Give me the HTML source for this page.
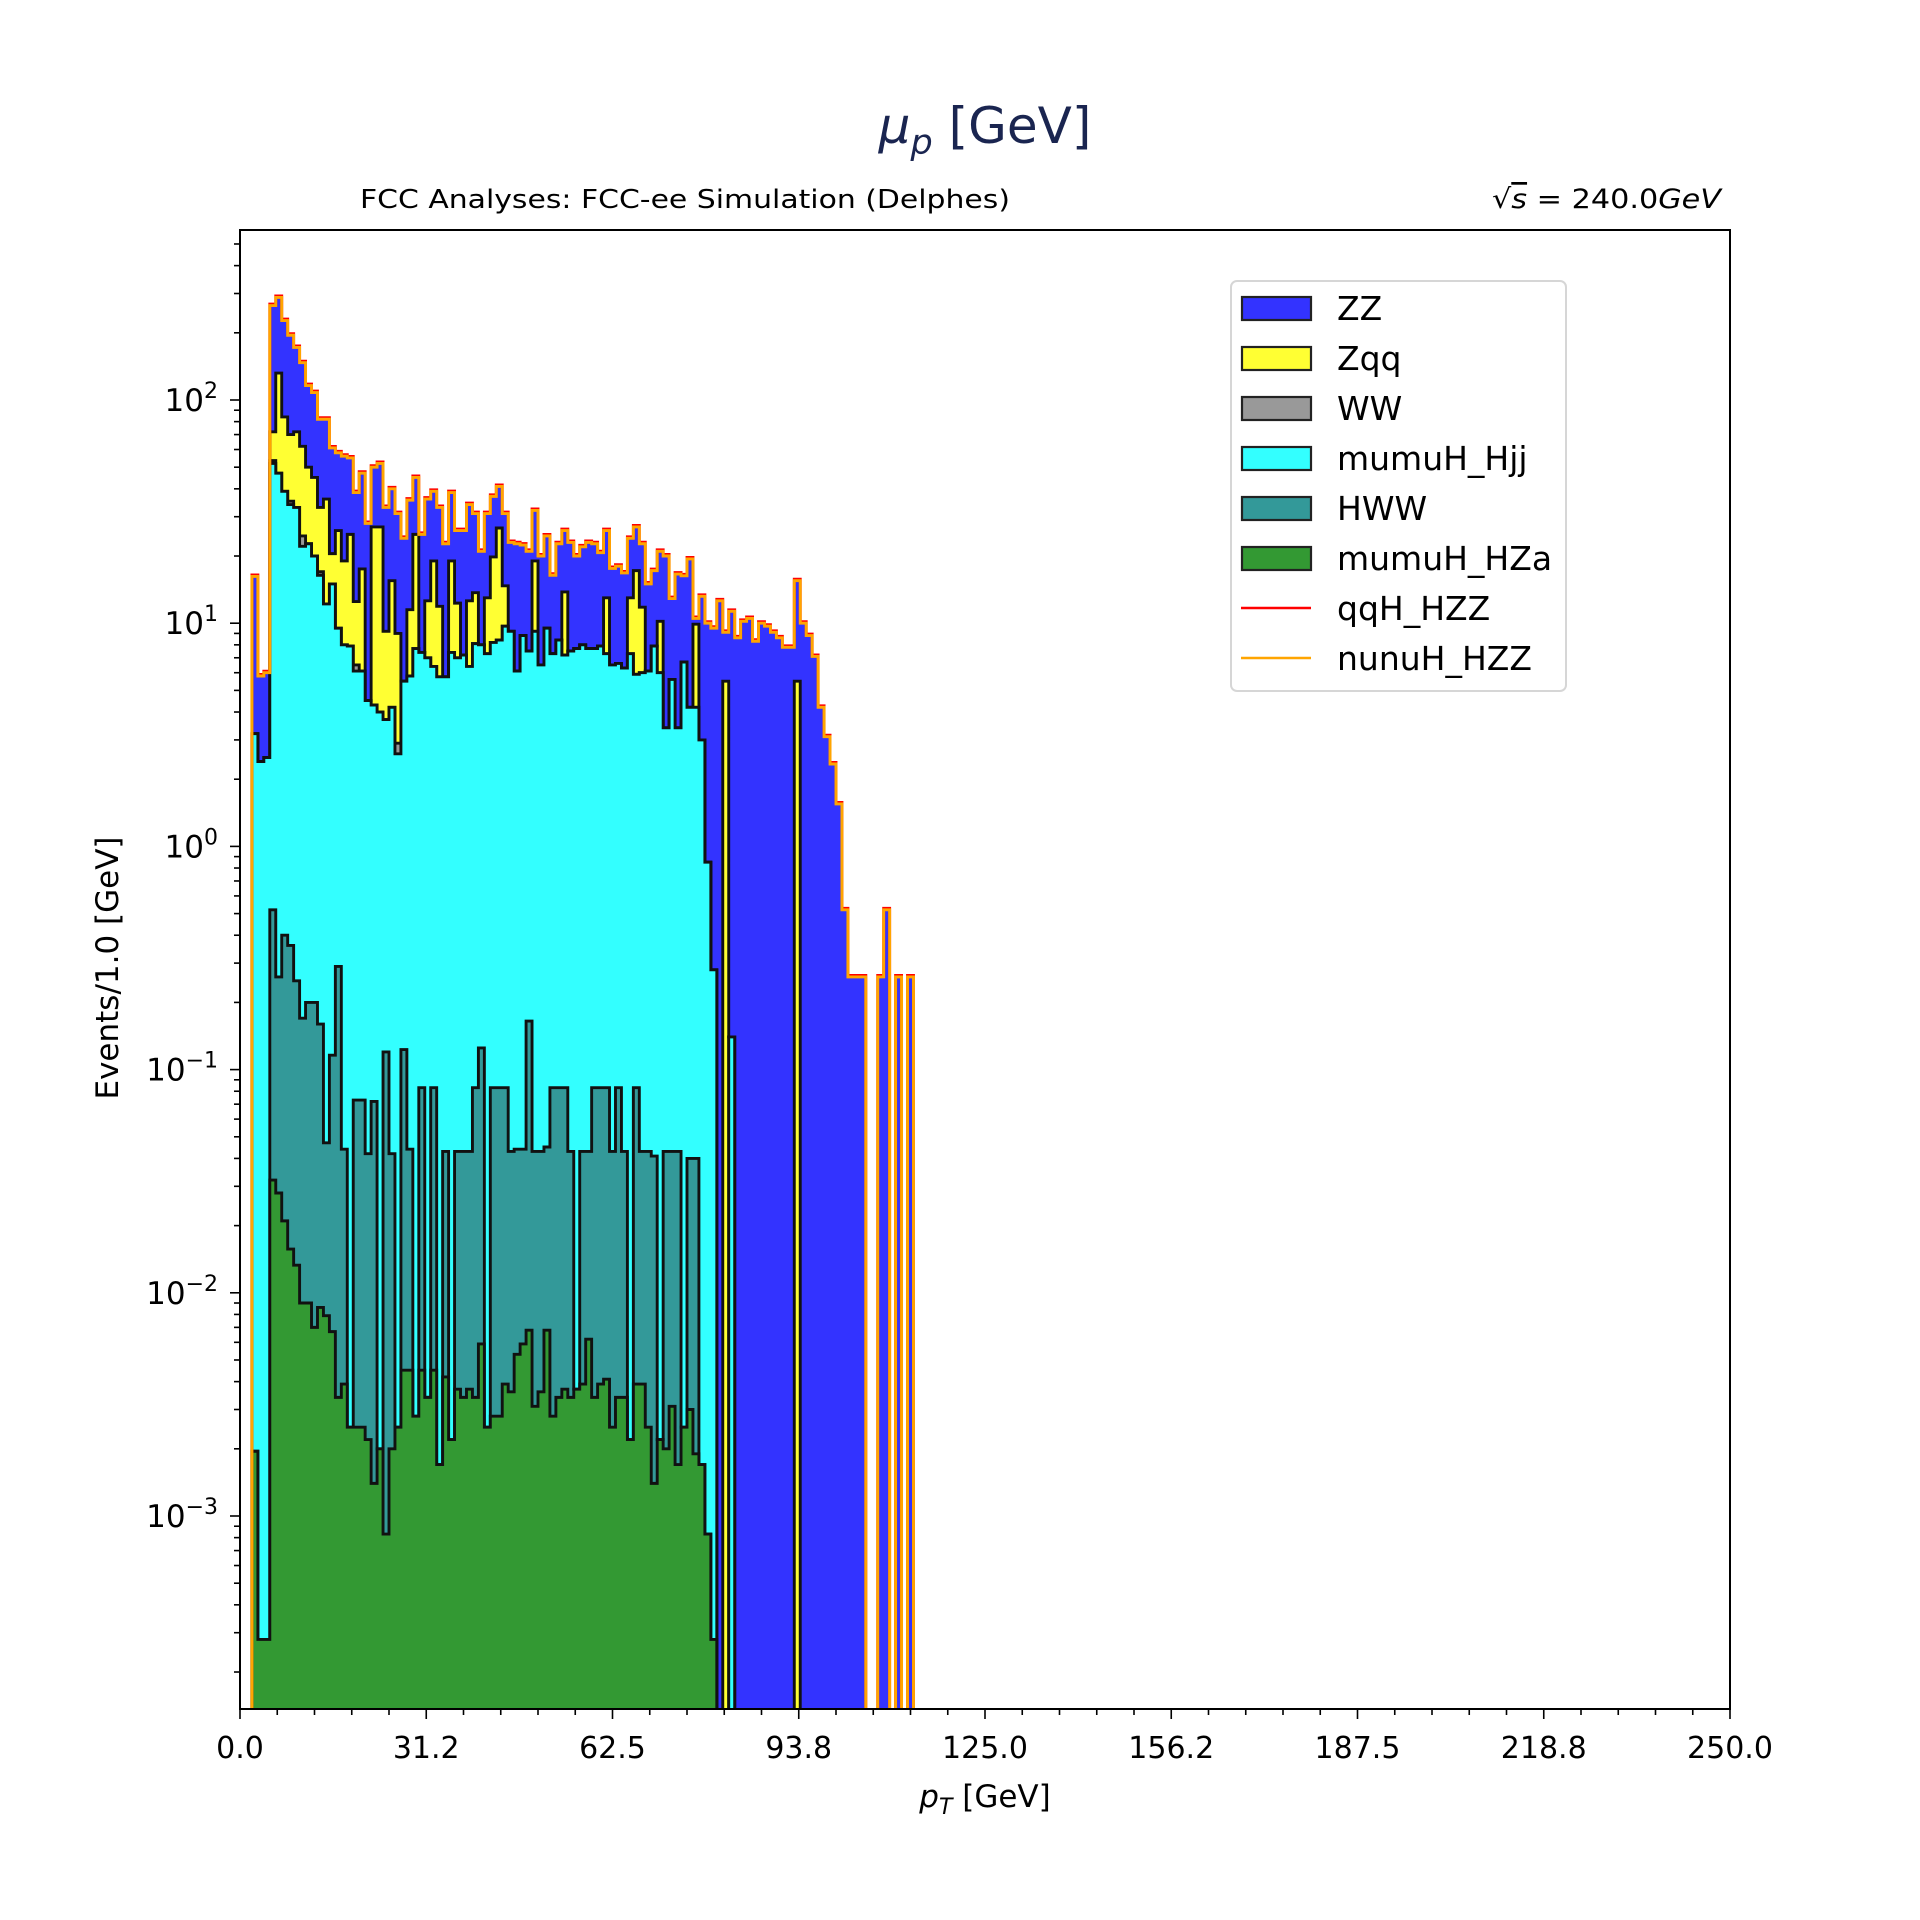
<!DOCTYPE html>
<html><head><meta charset="utf-8"><style>
html,body{margin:0;padding:0;background:#fff;}
svg{display:block;font-family:"DejaVu Sans","Liberation Sans",sans-serif;}
</style></head><body>
<svg id="chart" xmlns="http://www.w3.org/2000/svg" width="1920" height="1920" viewBox="0 0 1920 1920">
<rect width="1920" height="1920" fill="#fff"/>
<text x="985" y="143" text-anchor="middle" font-size="50" fill="#1a2550"><tspan font-style="italic">μ</tspan><tspan font-style="italic" font-size="35" dy="11">p</tspan><tspan dy="-11"> [GeV]</tspan></text>
<text x="360" y="208" font-size="26" textLength="650" lengthAdjust="spacingAndGlyphs">FCC Analyses: FCC-ee Simulation (Delphes)</text>
<text x="1492" y="208" font-size="27" textLength="229" lengthAdjust="spacingAndGlyphs">√<tspan font-style="italic" text-decoration="overline">s</tspan> = 240.0<tspan font-style="italic">GeV</tspan></text>
<defs><clipPath id="plotclip"><rect x="240" y="230" width="1490" height="1479"/></clipPath></defs>
<g id="bars" clip-path="url(#plotclip)"></g>
<g id="axes"></g>
<text x="985" y="1807" font-size="31" text-anchor="middle"><tspan font-style="italic">p</tspan><tspan font-style="italic" font-size="22" dy="7">T</tspan><tspan dy="-7"> [GeV]</tspan></text>
<text transform="translate(118,968) rotate(-90)" font-size="31" text-anchor="middle">Events/1.0 [GeV]</text>
<g id="legend">
<rect x="1231" y="281" width="335" height="410" rx="6" fill="#fff" fill-opacity="0.8" stroke="#d6d6d6" stroke-width="2"/>
</g>
</svg>
<script>
const binWidth = 1.0;
const stackTotal = [0,0,16.2,5.8,6.0,265,288,227,195,172,
147,116,108,82,82,61,58,56,55,38.5,
47,28,50,52,33,40,31,24,35.6,45,
25,36,39,33,22.7,38.5,26,26,34,31,
21,31,37,41,31,23,22.7,22.4,21,32,
20,24.6,16.4,22.7,26,23,20,22,23,22.7,
20.7,26,17.6,18,16.8,24,27,22.7,15,17.2,
21,20,12.9,16.6,16.3,19.4,10.5,13.2,10,9.5,
12.6,9.1,11.3,8.6,10.2,10.5,8.3,10,9.7,9.1,
8.6,7.8,7.8,15.5,10,8.8,7.1,4.2,3.1,2.34,
1.55,0.52,0.26,0.26,0.26,0,0,0.26,0.52,0,
0.26,0,0.26];
const stackZqq = [0,0,3.2,2.4,2.5,72,132,84,70,72,
62,50,45,33,36,20.5,26,19,25,12.5,
17.5,4.5,27,27,9.2,15.5,9.0,5.5,11.5,25,
7.4,12.6,19,11.9,5.75,19,12.3,7.2,12.6,13.7,
8,13,19.8,26.7,14.7,9.2,6.1,8.8,7.5,19,
6.5,9.5,7.3,8.4,13.8,7.5,7.7,8,7.7,7.7,
7.9,13,6.5,6.6,6.3,13,17.2,11.8,6.1,7.9,
10.2,3.4,5.6,3.4,6.7,4.2,9.9,3.0,0.85,0.28,
0,5.5,0.14,0,0,0,0,0,0,0,
0,0,0,5.5,0,0,0,0,0,0];
const wwExtra = [0,0,0,0,0,1.5,0,0,1.2,0,
2.5,0,0,0.6,0,0,0,0,0,0.4,
0,0,0,0,0,0,0.3,0,0,0];
const stackHjj = [0,0,3.2,2.4,2.5,52,47,39,34,33,
22.1,22.7,20,16.4,12.2,15,9.5,8,7.9,6.1,
6.1,4.5,4.3,4.0,3.7,4.2,2.6,5.5,5.8,7.7,
7.4,7.0,6.4,5.75,5.75,7.4,7.0,7.2,6.4,8.1,
8.0,7.3,8.2,8.4,9.7,9.2,6.1,8.8,7.5,9.2,
6.5,9.5,7.3,8.4,7.2,7.5,7.7,8.0,7.7,7.7,
7.9,7.3,6.5,6.6,6.3,7.3,5.9,6.0,6.1,7.9,
6.0,3.4,5.6,3.4,6.7,4.2,4.2,3.0,0.85,0.28,
0,0,0.14];
const stackHWW = [0,0,0.00195,0.00028,0.00028,0.52,0.26,0.40,0.36,0.25,
0.17,0.2,0.2,0.16,0.047,0.116,0.29,0.044,0.0025,0.073,
0.073,0.042,0.072,0.002,0.12,0.042,0.0025,0.123,0.044,0.0028,
0.083,0.0034,0.083,0.0017,0.043,0.0022,0.043,0.043,0.043,0.083,
0.125,0.0025,0.083,0.083,0.083,0.043,0.044,0.044,0.165,0.043,
0.043,0.045,0.083,0.083,0.083,0.043,0.0037,0.043,0.043,0.083,
0.083,0.083,0.043,0.083,0.043,0.0022,0.083,0.043,0.043,0.041,
0.0022,0.043,0.043,0.043,0.0025,0.04,0.04,0.0017,0.00083,0.00028];
const stackHZa = [0,0,0.00195,0.00028,0.00028,0.032,0.028,0.021,0.0157,0.0133,
0.009,0.009,0.007,0.0086,0.0079,0.0067,0.0034,0.0039,0.0025,0.0025,
0.0025,0.0022,0.0014,0.002,0.00083,0.002,0.0025,0.0045,0.0045,0.0028,
0.0045,0.0034,0.0045,0.0017,0.0042,0.0022,0.0037,0.0034,0.0037,0.0034,
0.0059,0.0025,0.0028,0.0028,0.0039,0.0036,0.0053,0.0059,0.0068,0.0031,
0.0036,0.0068,0.0028,0.0034,0.0037,0.0034,0.0037,0.0039,0.0062,0.0034,
0.0039,0.0041,0.0025,0.0034,0.0034,0.0022,0.0039,0.0039,0.0025,0.0014,
0.0022,0.002,0.0031,0.0017,0.0025,0.003,0.0019,0.0017,0.00083,0.00028];
const xTickLabels = ["0.0","31.2","62.5","93.8","125.0","156.2","187.5","218.8","250.0"];
const yTickExps = [-3,-2,-1,0,1,2];
const legendNames = ["ZZ","Zqq","WW","mumuH_Hjj","HWW","mumuH_HZa","qqH_HZZ","nunuH_HZZ"];

const NS = "http://www.w3.org/2000/svg";
const L = 240, R = 1730, T = 230, B = 1709;
const xMin = 0, xMax = 250;
const logMax = 2 + (400 - T) / 223.2;
const logMin = logMax - (B - T) / 223.2;
function xOf(v){ return L + (v - xMin) / (xMax - xMin) * (R - L); }
function yOf(v){ if (!(v > 0)) return B + 20; return T + (logMax - Math.log10(v)) / (logMax - logMin) * (B - T); }
function mk(tag, attrs, parent){ const e = document.createElementNS(NS, tag); for (const k in attrs) e.setAttribute(k, attrs[k]); parent.appendChild(e); return e; }

const nBins = stackTotal.length;
function val(arr, i){ return (i < arr.length && arr[i] > 0) ? arr[i] : 0; }
const stackWW = [];
for (let i = 0; i < nBins; i++) stackWW.push(val(stackHjj, i) + val(wwExtra, i));

function stepD(arr, close){
  let d = "M" + xOf(0) + "," + (B + 20);
  for (let i = 0; i < nBins; i++) {
    const y = yOf(val(arr, i));
    d += " L" + xOf(i * binWidth).toFixed(2) + "," + y.toFixed(2) + " L" + xOf((i + 1) * binWidth).toFixed(2) + "," + y.toFixed(2);
  }
  d += " L" + xOf(nBins * binWidth) + "," + (B + 20);
  if (close) d += " Z";
  return d;
}

const bars = document.getElementById("bars");
const layers = [
  {arr: stackTotal, fill: "#3333ff", stroke: "none", name: "zz-fill"},
  {arr: stackZqq, fill: "#ffff33", stroke: "#111", name: "zqq-fill"},
  {arr: stackWW, fill: "#999999", stroke: "#111", name: "ww-fill"},
  {arr: stackHjj, fill: "#33ffff", stroke: "#111", name: "mumuh-hjj-fill"},
  {arr: stackHWW, fill: "#339999", stroke: "#111", name: "hww-fill"},
  {arr: stackHZa, fill: "#339933", stroke: "#111", name: "mumuh-hza-fill"}
];
layers.forEach(ly => {
  const p = mk("path", {d: stepD(ly.arr, true), fill: ly.fill, stroke: ly.stroke, "stroke-width": 2.9, "stroke-linejoin": "miter"}, bars);
  
  
});
const red = mk("path", {d: stepD(stackTotal, false), fill: "none", stroke: "#ff0000", "stroke-width": 2.9, transform: "translate(0,-1.5)"}, bars);


const orange = mk("path", {d: stepD(stackTotal, false), fill: "none", stroke: "#ffa500", "stroke-width": 2.9}, bars);



const axes = document.getElementById("axes");
const frame = mk("rect", {x: L, y: T, width: R - L, height: B - T, fill: "none", stroke: "#000", "stroke-width": 2}, axes);


for (let k = 0; k <= 40; k++) {
  const v = k * 6.25, x = xOf(v), major = (k % 5 === 0);
  const t = mk("line", {x1: x, x2: x, y1: B, y2: B + (major ? 10 : 6), stroke: "#000", "stroke-width": 1.6}, axes);
  
  
}
xTickLabels.forEach((lab, i) => {
  const tx = mk("text", {x: xOf(i * 31.25), y: 1758, "font-size": 30, "text-anchor": "middle"}, axes);
  tx.textContent = lab;
  
  
});
for (let e = -5; e <= 3; e++) {
  for (let m = 1; m <= 9; m++) {
    const v = m * Math.pow(10, e), lv = Math.log10(v);
    if (lv < logMin || lv > logMax) continue;
    const y = yOf(v), major = (m === 1);
    const t = mk("line", {x1: L - (major ? 10 : 6), x2: L, y1: y, y2: y, stroke: "#000", "stroke-width": 1.6}, axes);
    
    
  }
}
yTickExps.forEach(ex => {
  const y = yOf(Math.pow(10, ex));
  const tx = mk("text", {x: 218, y: y + 11, "font-size": 31, "text-anchor": "end"}, axes);
  
  
  const a = document.createElementNS(NS, "tspan"); a.textContent = "10"; tx.appendChild(a);
  const b = document.createElementNS(NS, "tspan"); b.setAttribute("font-size", "22"); b.setAttribute("dy", "-13");
  b.textContent = (ex < 0 ? "\u2212" + (-ex) : String(ex)); tx.appendChild(b);
});

const legend = document.getElementById("legend");
const patchColors = ["#3333ff","#ffff33","#999999","#33ffff","#339999","#339933"];
legendNames.forEach((nm, i) => {
  const cy = 308 + i * 50;
  if (i < 6) {
    const r = mk("rect", {x: 1242, y: cy - 11, width: 69, height: 23, fill: patchColors[i], stroke: "#222", "stroke-width": 2.2}, legend);
    
    
  } else {
    const ln = mk("line", {x1: 1241, x2: 1311, y1: cy, y2: cy, stroke: i === 6 ? "#ff0000" : "#ffa500", "stroke-width": 2.6}, legend);
    
    
  }
  const tx = mk("text", {x: 1337, y: cy + 12, "font-size": 33}, legend);
  tx.textContent = nm;
  
  
});
</script>
</body></html>
